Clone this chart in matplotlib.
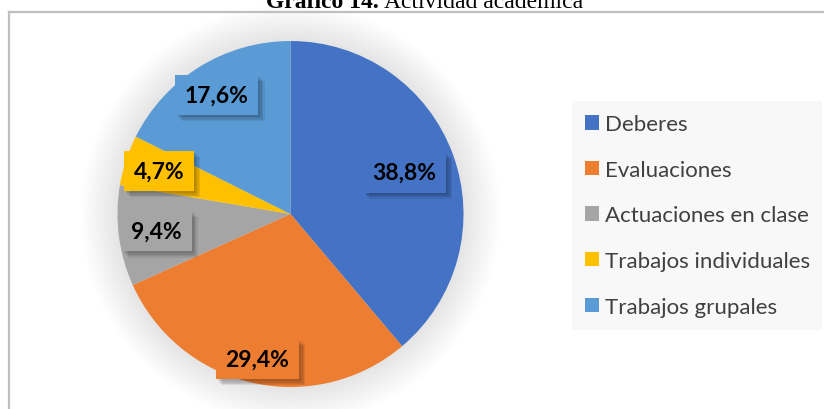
import numpy as np
import matplotlib.pyplot as plt
import matplotlib.patheffects as pe
from matplotlib.lines import Line2D
from matplotlib.patches import Circle

# --- Data ---
categories = ['Deberes', 'Evaluaciones', 'Actuaciones en clase',
              'Trabajos individuales', 'Trabajos grupales']
values = [38.8, 29.4, 9.4, 4.7, 17.6]
labels = ['38,8%', '29,4%', '9,4%', '4,7%', '17,6%']
colors = ['#4472c4', '#ed7d31', '#a5a5a5', '#ffc000', '#5b9bd5']

# radial position of each label (fraction of radius)
label_r = [0.70, 0.86, 0.78, 0.80, 0.81]

W, H = 824, 410
fig = plt.figure(figsize=(W / 100, H / 100), dpi=100)

# chart frame (left and top edges visible)
fig.add_artist(Line2D([9 / W, 9 / W], [0, (H - 13) / H], color='#bfbfbf', lw=1.6))
fig.add_artist(Line2D([9 / W, 1], [(H - 13) / H, (H - 13) / H], color='#bfbfbf', lw=1.6))

# title, cut at the top edge (bold part + regular part)
t1 = fig.text(266 / W, (H - 8) / H, 'Gráfico 14.', family='Liberation Serif',
              weight='bold', fontsize=17, va='baseline', ha='left')
renderer = fig.canvas.get_renderer()
x_end = t1.get_window_extent(renderer).x1
fig.text((x_end + 5) / W, (H - 8) / H, 'Actividad académica', family='Liberation Serif',
         fontsize=17, va='baseline', ha='left')

# --- Pie ---
cx, cy, R = 290.5, 215, 173
ax = fig.add_axes([(cx - R) / W, (H - cy - R) / H, 2 * R / W, 2 * R / H])

# soft glow around the pie
for k in range(14):
    ax.add_patch(Circle((0, 0), 1.0 + 0.016 * k, color='k', alpha=0.006,
                        lw=0, zorder=0, clip_on=False))

wedges, _ = ax.pie(values, colors=colors, startangle=90, counterclock=False,
                   radius=1, wedgeprops=dict(linewidth=0))
for w in wedges:
    w.set_zorder(2)

# data labels in coloured boxes with a soft shadow
shadow = [pe.SimplePatchShadow(offset=(d, -d), shadow_rgbFace='black', alpha=0.08)
          for d in (4.5, 3.5, 2.5, 1.5)]
for w, lab, r, col in zip(wedges, labels, label_r, colors):
    ang = np.deg2rad((w.theta1 + w.theta2) / 2)
    t = ax.text(r * np.cos(ang), r * np.sin(ang), lab, ha='center', va='center',
                family='Lato', weight='bold', fontsize=16.5, color='black', zorder=5,
                bbox=dict(boxstyle='square,pad=0.42', fc=col, ec='none'))
    t.get_bbox_patch().set_path_effects(shadow + [pe.Normal()])

ax.set_xlim(-1, 1)
ax.set_ylim(-1, 1)
ax.axis('off')

# --- Legend ---
handles = [plt.Rectangle((0, 0), 1, 1, fc=c, ec='none') for c in colors]
leg = fig.legend(handles, categories, loc='upper left',
                 bbox_to_anchor=(572 / W, (H - 327) / H, 250 / W, 225 / H),
                 mode='expand', frameon=True, fancybox=False,
                 facecolor='#f8f8f8', edgecolor='none', framealpha=1,
                 prop={'family': 'Lato', 'size': 16}, labelcolor='#404040',
                 handlelength=0.62, handleheight=0.62, handletextpad=0.28,
                 labelspacing=1.15, borderpad=0.6, borderaxespad=0)

plt.savefig('out.png', dpi=100)
